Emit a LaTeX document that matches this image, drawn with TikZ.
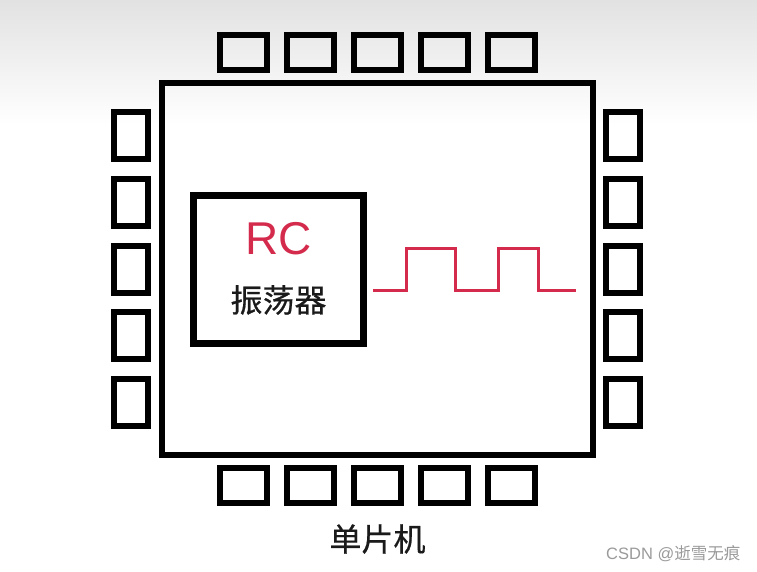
\documentclass[tikz,border=0pt]{standalone}
\usepackage{fontspec}
\setmainfont{Liberation Sans}
\newfontfamily\cjk{Noto Sans CJK SC}
\newfontfamily\cjkm[FakeBold=0.6]{Noto Sans CJK SC}
\definecolor{wred}{HTML}{D42A4C}
\definecolor{topgrey}{HTML}{E2E2E2}
\definecolor{txtdark}{HTML}{1A1A1A}
\definecolor{wmgrey}{HTML}{9A9A9A}
\begin{document}
\begin{tikzpicture}[x=1pt,y=-1pt,
  pinh/.style={draw=black, line width=6pt, minimum width=47pt, minimum height=35pt, inner sep=0pt},
  pinv/.style={draw=black, line width=6pt, minimum width=34pt, minimum height=47pt, inner sep=0pt},
  chip/.style={draw=black, line width=6pt, minimum width=431pt, minimum height=372pt, inner sep=0pt},
  oscbox/.style={draw=black, line width=6.5pt, minimum width=170pt, minimum height=148pt, inner sep=0pt},
  cjklabel/.style={font=\cjkm\fontsize{32}{36}\selectfont, text=txtdark, inner sep=0pt},
  wave/.style={draw=wred, line width=3pt}]
\useasboundingbox (0,0) rectangle (757,572);
\shade[top color=topgrey, bottom color=white] (0,0) rectangle (757,125);
\node[chip] (mcu) at (377.5,269) {};
\foreach \i in {0,...,4} {
  \node[pinh] (t\i) at ({243.5+67*\i},52.5) {};
  \node[pinh] (b\i) at ({243.5+67*\i},485) {};
  \node[pinv] (l\i) at (131,{135.5+66.8*\i}) {};
  \node[pinv] (r\i) at (623,{135.5+66.8*\i}) {};
}
\node[oscbox] (osc) at (278.5,269.5) {};
\node[font=\fontsize{46}{50}\selectfont, text=wred, inner sep=0pt] (rc) at (278.5,238.5) {RC};
\node[cjklabel] (osclabel) at (278.5,300) {振荡器};
\node[cjklabel] (mculabel) at (377.5,539) {单片机};
\node[font=\fontsize{16.5}{18}\selectfont, text=wmgrey, inner sep=0pt, anchor=west] (wm) at (606,554) {CSDN @{\cjk 逝雪无痕}};
\coordinate (w0) at (373,290);
\draw[wave] (w0) -- ++(33,0) -- ++(0,-42) -- ++(49,0) -- ++(0,42) -- ++(43,0) -- ++(0,-42) -- ++(40,0) -- ++(0,42) -- ++(38,0);
\end{tikzpicture}
\end{document}
